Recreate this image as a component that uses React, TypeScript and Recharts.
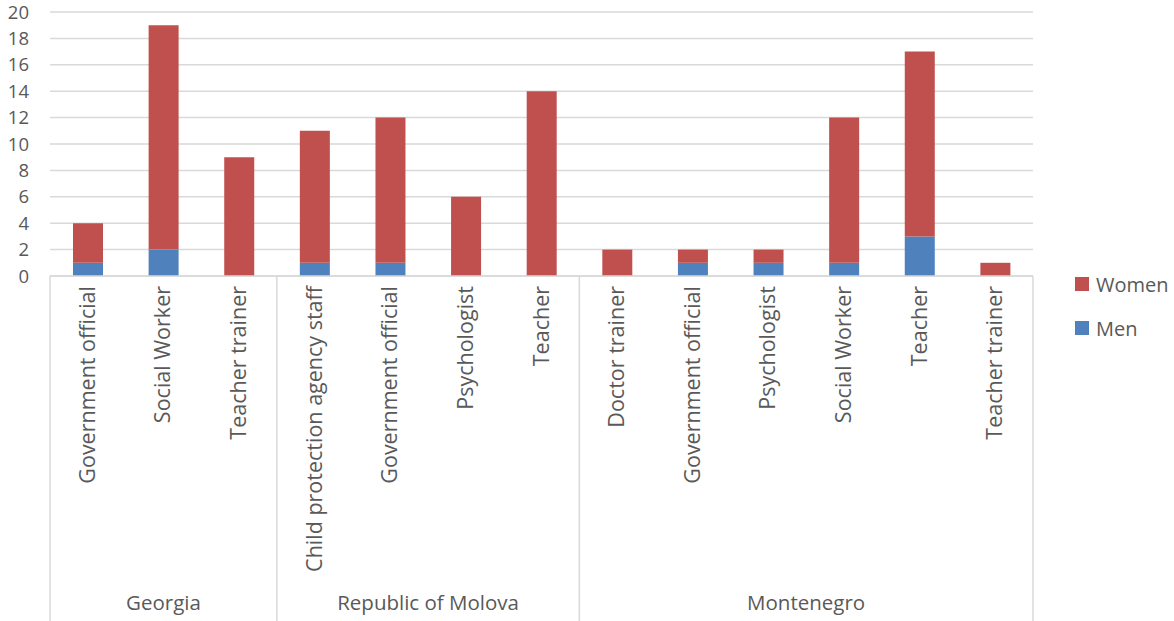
import React from 'react';
import { BarChart, Bar, XAxis, YAxis, CartesianGrid } from 'recharts';

// Occupations, grouped by country
const categories = [
  'Government official', 'Social Worker', 'Teacher trainer',
  'Child protection agency staff', 'Government official', 'Psychologist', 'Teacher',
  'Doctor trainer', 'Government official', 'Psychologist', 'Social Worker', 'Teacher', 'Teacher trainer',
];
const countries = ['Georgia', 'Republic of Molova', 'Montenegro'];
const countrySizes = [3, 4, 6];

const men = [1, 2, 0, 1, 1, 0, 0, 0, 1, 1, 1, 3, 0];
const women = [3, 17, 9, 10, 11, 6, 14, 2, 1, 1, 11, 14, 1];

const yTicks = [0, 2, 4, 6, 8, 10, 12, 14, 16, 18, 20];

const legendItems = [
  { label: 'Women', color: '#C0504D' },
  { label: 'Men', color: '#4F81BD' },
];

const data = categories.map((name, i) => ({ key: `${i}`, name, men: men[i], women: women[i] }));

const TEXT = '#595959';
const LINE = '#d9d9d9';
const FONT = '"Open Sans", "Liberation Sans", sans-serif';

// index of the first category of each country group
const groupStarts: number[] = [];
countrySizes.reduce((acc, n) => { groupStarts.push(acc); return acc + n; }, 0);

const CategoryTick = (props: any) => {
  const { x, y, payload, index } = props;
  const half = payload?.offset ?? 37.8;
  const step = half * 2;
  const bottom = 621;
  const i = index ?? payload.index;
  const items: React.ReactNode[] = [];
  const g = groupStarts.indexOf(i);
  if (g >= 0) {
    items.push(<line key="sep" x1={x - half} x2={x - half} y1={y - 8} y2={bottom} stroke={LINE} strokeWidth={1.5} />);
    const cx = x - half + (countrySizes[g] * step) / 2;
    items.push(
      <text key="grp" x={cx} y={610} textAnchor="middle" fill={TEXT} fontSize={20.5} fontFamily={FONT}>
        {countries[g]}
      </text>
    );
  }
  if (i === categories.length - 1) {
    items.push(<line key="end" x1={x + half} x2={x + half} y1={y - 8} y2={bottom} stroke={LINE} strokeWidth={1.5} />);
  }
  items.push(
    <text key="lbl" x={0} y={0} transform={`translate(${x + 7},${y + 2}) rotate(-90)`} textAnchor="end"
      fill={TEXT} fontSize={21.5} fontFamily={FONT}>
      {categories[i]}
    </text>
  );
  return <g>{items}</g>;
};

export default function App() {
  return (
    <div style={{ position: 'absolute', left: 0, top: 0, width: 1174, height: 621, background: '#fff' }}>
      <BarChart width={1174} height={621} data={data} margin={{ top: 12, right: 141, bottom: 0, left: 0 }} barSize={30}>
        <CartesianGrid vertical={false} stroke={LINE} strokeWidth={1.5} />
        <XAxis dataKey="key" height={345} interval={0} tickLine={false} axisLine={{ stroke: LINE, strokeWidth: 1.5 }}
          tick={<CategoryTick />} />
        <YAxis width={50} domain={[0, 20]} ticks={yTicks} axisLine={false} tickLine={false} tickSize={0} tickMargin={21}
          tick={{ fill: TEXT, fontSize: 18.5, fontFamily: FONT }} interval={0} />
        <Bar dataKey="men" stackId="a" fill="#4F81BD" isAnimationActive={false} />
        <Bar dataKey="women" stackId="a" fill="#C0504D" isAnimationActive={false} />
      </BarChart>
      <div style={{ position: 'absolute', left: 1075, top: 262, fontFamily: FONT, fontSize: 20, color: TEXT }}>
        {legendItems.map((it) => (
          <div key={it.label} style={{ display: 'flex', alignItems: 'center', height: 44 }}>
            <span style={{ width: 14, height: 14, background: it.color, display: 'inline-block', marginRight: 7 }} />
            <span>{it.label}</span>
          </div>
        ))}
      </div>
    </div>
  );
}
